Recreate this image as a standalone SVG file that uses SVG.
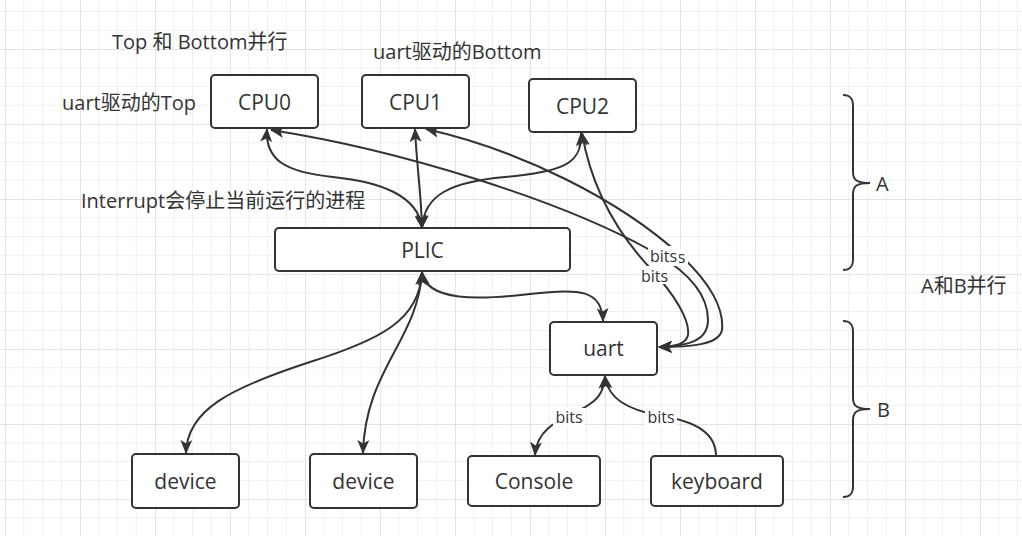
<svg xmlns="http://www.w3.org/2000/svg" width="1022" height="536" viewBox="0 0 1022 536">
<style>
.box{fill:#fff;stroke:#333;stroke-width:2}
.lbl{font-family:"Open Sans","Noto Sans CJK SC",sans-serif;font-size:21px;fill:#333;text-anchor:middle}
.ann{font-family:"Open Sans","Noto Sans CJK SC",sans-serif;font-size:20px;fill:#333}
.edge{fill:none;stroke:#333;stroke-width:2}
.bi{marker-start:url(#arr);marker-end:url(#arr)}
.one{marker-end:url(#arr)}
.elbl{font-family:"Open Sans","Noto Sans CJK SC",sans-serif;font-size:16px;fill:#333;text-anchor:middle}
.brace{fill:none;stroke:#333;stroke-width:2}
</style>
<defs>
<pattern id="grid" patternUnits="userSpaceOnUse" x="5" y="49" width="75" height="75">
<path d="M0,18.75H75M0,37.5H75M0,56.25H75M18.75,0V75M37.5,0V75M56.25,0V75" stroke="#f0f0f0" stroke-width="1" fill="none"/>
<path d="M0,0.5H75M0.5,0V75" stroke="#e3e3e3" stroke-width="1" fill="none"/>
</pattern>
<marker id="arr" markerUnits="userSpaceOnUse" markerWidth="14" markerHeight="12" refX="13" refY="6" orient="auto-start-reverse" viewBox="0 0 14 12">
<path d="M0,0 L14,6 L0,12 L3.5,6 Z" fill="#333"/>
</marker>
</defs>
<rect width="1022" height="536" fill="#fff"/>
<rect width="1022" height="536" fill="url(#grid)"/>

<g id="connectors">
<path id="e-cpu0-plic" class="edge bi" d="M267,129 C265,160 285,172 333,177 C380,182 418,195 422,228"/>
<path id="e-cpu1-plic" class="edge bi" d="M415,129 C417,170 421,190 422,228"/>
<path id="e-cpu2-plic" class="edge bi" d="M581,133 C583,165 560,172 505,177 C450,182 424,195 422,228"/>
<path id="e-uart-cpu0" class="edge bi" d="M271,130 C400,150 560,200 650,250 C690,272 708,295 708,320 C708,340 690,346 659,347"/>
<path id="e-uart-cpu1" class="edge bi" d="M426,129 C520,150 620,200 680,255 C712,284 724,310 722,330 C719,345 690,347 659,347"/>
<path id="e-uart-cpu2" class="edge bi" d="M582,133 C590,180 610,225 650,268 C675,295 690,320 688,335 C686,345 672,347 659,347"/>
<path id="e-plic-uart" class="edge bi" d="M422,272 C426,302 480,300 530,294 C580,288 602,290 603,321"/>
<path id="e-plic-dev1" class="edge bi" d="M422,272 C420,320 380,340 310,362 C230,388 187,410 186,453"/>
<path id="e-plic-dev2" class="edge bi" d="M422,272 C418,340 365,370 363,453"/>
<path id="e-uart-console" class="edge bi" d="M605,376 C604,395 595,402 580,410 C560,420 537,428 535,455"/>
<path id="e-kbd-uart" class="edge one" d="M716,456 C716,430 690,420 660,416 C630,410 608,400 605,376"/>
<g id="edge-labels">
<rect x="656" y="249" width="32" height="17" fill="#fff"/>
<text class="elbl" x="681.5" y="262.7">s</text>
<rect x="648" y="246" width="31" height="18" fill="#fff"/>
<text class="elbl" x="663.5" y="261.7">bits</text>
<rect x="639" y="266" width="31" height="18" fill="#fff"/>
<text class="elbl" x="654.5" y="281.7">bits</text>
<rect x="553" y="408" width="32" height="18" fill="#fff"/>
<text class="elbl" x="569" y="422.7">bits</text>
<rect x="645" y="408" width="32" height="18" fill="#fff"/>
<text class="elbl" x="661" y="422.7">bits</text>
</g>
</g>

<g id="cpu0"><rect class="box" x="211" y="75" width="107" height="53" rx="4"/><text class="lbl" x="264.5" y="109.5">CPU0</text></g>
<g id="cpu1"><rect class="box" x="362" y="75" width="107" height="53" rx="4"/><text class="lbl" x="415.5" y="109.5">CPU1</text></g>
<g id="cpu2"><rect class="box" x="529" y="79" width="107" height="53" rx="4"/><text class="lbl" x="582.5" y="113.5">CPU2</text></g>
<g id="plic"><rect class="box" x="275" y="228" width="295" height="43" rx="4"/><text class="lbl" x="422.5" y="257.5">PLIC</text></g>
<g id="uart"><rect class="box" x="550" y="322" width="107" height="53" rx="4"/><text class="lbl" x="603.5" y="356">uart</text></g>
<g id="device1"><rect class="box" x="132" y="454" width="107" height="54" rx="4"/><text class="lbl" x="185.5" y="488.5">device</text></g>
<g id="device2"><rect class="box" x="310" y="454" width="107" height="54" rx="4"/><text class="lbl" x="363.5" y="488.5">device</text></g>
<g id="console"><rect class="box" x="468" y="456" width="132" height="50" rx="4"/><text class="lbl" x="534" y="488.5">Console</text></g>
<g id="keyboard"><rect class="box" x="651" y="456" width="132" height="50" rx="4"/><text class="lbl" x="717" y="488.5">keyboard</text></g>

<g id="note-top-bottom"><text class="ann" x="112" y="49.3">Top 和 Bottom并行</text></g>
<g id="note-uart-bottom"><text class="ann" x="373" y="59">uart驱动的Bottom</text></g>
<g id="note-uart-top"><text class="ann" x="62" y="110">uart驱动的Top</text></g>
<g id="note-interrupt"><text class="ann" x="81" y="208.3">Interrupt会停止当前运行的进程</text></g>
<g id="brace-a"><path class="brace" d="M843,95 C850,95 853,98 853,106 L853,172 C853,180 857,183 870,183 C857,183 853,186 853,194 L853,259 C853,267 850,270 843,270"/><text class="ann" x="876" y="191">A</text></g>
<g id="brace-b"><path class="brace" d="M843,321 C850,321 853,324 853,332 L853,398 C853,406 857,409 870,409 C857,409 853,412 853,420 L853,486 C853,494 850,497 843,497"/><text class="ann" x="877" y="416.7">B</text></g>
<g id="note-ab"><text class="ann" x="921" y="293.3">A和B并行</text></g>
</svg>
